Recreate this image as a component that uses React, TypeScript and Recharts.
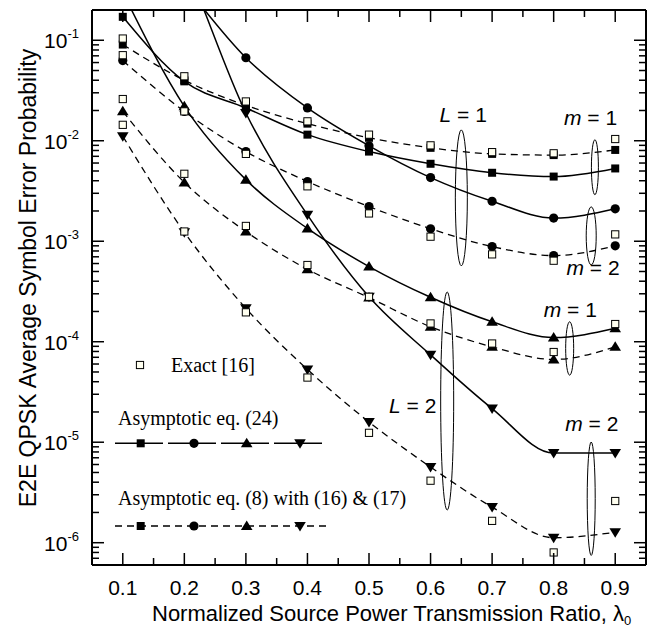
import React from "react";
import { LineChart, Line, XAxis, YAxis, ReferenceDot } from "recharts";

// normalized source power transmission ratio
const lambda0 = [0.1, 0.2, 0.3, 0.4, 0.5, 0.6, 0.7, 0.8, 0.9];

// Asymptotic eq. (24) - solid lines
const eq24L1m1 = [0.171, 0.039, 0.0212, 0.0115, 0.0078, 0.0059, 0.0048, 0.0044, 0.0053];
const eq24L1m2 = [2.5, 0.36, 0.067, 0.0212, 0.0089, 0.0043, 0.0025, 0.0017, 0.0021];
const eq24L2m1 = [0.3, 0.022, 0.0041, 0.00134, 5.6e-4, 2.77e-4, 1.58e-4, 1.1e-4, 1.36e-4];
const eq24L2m2 = [10, 0.6, 0.0189, 0.00183, 2.8e-4, 7.4e-5, 2.16e-5, 7.8e-6, 7.8e-6];

// Asymptotic eq. (8) with (16) & (17) - dashed lines
const eq8L1m1 = [0.0906, 0.04, 0.0225, 0.0148, 0.0107, 0.0085, 0.0074, 0.0072, 0.0081];
const eq8L1m2 = [0.0628, 0.0196, 0.0078, 0.00393, 0.00221, 0.00133, 8.85e-4, 7.2e-4, 9.0e-4];
const eq8L2m1 = [0.0196, 0.00385, 0.00125, 5.26e-4, 2.75e-4, 1.41e-4, 8.9e-5, 6.66e-5, 8.9e-5];
const eq8L2m2 = [0.0111, 0.00123, 2.15e-4, 5.3e-5, 1.59e-5, 5.66e-6, 2.26e-6, 1.12e-6, 1.27e-6];

// Exact [16] - open squares
const exactL1m1 = [0.104, 0.0438, 0.0246, 0.0156, 0.0115, 0.009, 0.0077, 0.0075, 0.0104];
const exactL1m2 = [0.071, 0.0196, 0.0074, 0.00352, 0.00189, 0.00111, 7.4e-4, 6.4e-4, 1.17e-3];
const exactL2m1 = [0.026, 0.00469, 0.00142, 5.8e-4, 2.8e-4, 1.52e-4, 9.6e-5, 7.9e-5, 1.5e-4];
const exactL2m2 = [0.0144, 0.00125, 1.96e-4, 4.4e-5, 1.24e-5, 4.14e-6, 1.65e-6, 8.0e-7, 2.6e-6];

const xMajorTicks = [0.1, 0.2, 0.3, 0.4, 0.5, 0.6, 0.7, 0.8, 0.9];
const xMinorTicks = [0.15, 0.25, 0.35, 0.45, 0.55, 0.65, 0.75, 0.85];
const yMajorTicks = [1e-6, 1e-5, 1e-4, 1e-3, 1e-2, 1e-1];
const yDomain: [number, number] = [6e-7, 0.2];

// annotations: ellipses around curve groups, labels
const ellipses = [
  { x: 0.65, y: 0.0027, rx: 6, ry: 68 },
  { x: 0.867, y: 0.00545, rx: 3.5, ry: 27.5 },
  { x: 0.861, y: 0.00113, rx: 5, ry: 29 },
  { x: 0.627, y: 2.57e-5, rx: 6.5, ry: 109 },
  { x: 0.826, y: 8.57e-5, rx: 4, ry: 26.7 },
  { x: 0.861, y: 2.74e-6, rx: 4, ry: 56.7 },
];
const labels = [
  { x: 0.653, y: 0.01815, name: "L", val: "1" },
  { x: 0.86, y: 0.01695, name: "m", val: "1" },
  { x: 0.864, y: 5.42e-4, name: "m", val: "2" },
  { x: 0.827, y: 2.11e-4, name: "m", val: "1" },
  { x: 0.571, y: 2.33e-5, name: "L", val: "2" },
  { x: 0.862, y: 1.55e-5, name: "m", val: "2" },
];

const yMinorTicks: number[] = [];
for (let e = -7; e <= -1; e++) {
  for (let k = 2; k <= 9; k++) {
    const v = k * Math.pow(10, e);
    if (v >= yDomain[0] && v < yDomain[1]) yMinorTicks.push(v);
  }
}
const yTicks = [...yMajorTicks, ...yMinorTicks].sort((a, b) => a - b);
const xTicks = [...xMajorTicks, ...xMinorTicks].sort((a, b) => a - b);

const data = lambda0.map((x, i) => ({
  x,
  a11: eq24L1m1[i],
  a12: eq24L1m2[i],
  a21: eq24L2m1[i],
  a22: eq24L2m2[i],
  b11: eq8L1m1[i],
  b12: eq8L1m2[i],
  b21: eq8L2m1[i],
  b22: eq8L2m2[i],
  e11: exactL1m1[i],
  e12: exactL1m2[i],
  e21: exactL2m1[i],
  e22: exactL2m2[i],
}));

const SANS = "'Liberation Sans', Arial, sans-serif";
const SERIF = "'Liberation Serif', 'Times New Roman', serif";

const isMajorY = (v: number) => {
  const l = Math.log10(v);
  return Math.abs(l - Math.round(l)) < 1e-6;
};
const isMajorX = (v: number) => Math.abs(v * 10 - Math.round(v * 10)) < 1e-6;

type Shape = "square" | "circle" | "up" | "down" | "open";

function Marker({ cx, cy, shape }: { cx: number; cy: number; shape: Shape }) {
  if (cx == null || cy == null || isNaN(cx) || isNaN(cy)) return null;
  switch (shape) {
    case "square":
      return <rect x={cx - 4} y={cy - 4} width={8} height={8} fill="#000" />;
    case "circle":
      return <circle cx={cx} cy={cy} r={4.6} fill="#000" />;
    case "up":
      return (
        <polygon
          points={`${cx},${cy - 5.5} ${cx + 5.8},${cy + 4} ${cx - 5.8},${cy + 4}`}
          fill="#000"
        />
      );
    case "down":
      return (
        <polygon
          points={`${cx},${cy + 5.5} ${cx + 5.8},${cy - 4} ${cx - 5.8},${cy - 4}`}
          fill="#000"
        />
      );
    default:
      return (
        <rect
          x={cx - 3.6}
          y={cy - 3.6}
          width={7.2}
          height={7.2}
          fill="#fffff0"
          stroke="#000"
          strokeWidth={1}
        />
      );
  }
}

const dotFor = (shape: Shape) => (p: any) => (
  <Marker key={`${shape}-${p.index}`} cx={p.cx} cy={p.cy} shape={shape} />
);

function LeftTick(props: any) {
  const { x, y, payload } = props;
  const v = payload.value;
  const major = isMajorY(v);
  return (
    <g>
      <line x1={x} x2={x + (major ? 12 : 7)} y1={y} y2={y} stroke="#000" strokeWidth={1.5} />
      {major && (
        <text x={x - 13} y={y + 8} textAnchor="end" fontFamily={SANS} fontSize={21} fill="#000">
          10
          <tspan dy={-10} fontSize={13}>
            {`-${Math.abs(Math.round(Math.log10(v)))}`}
          </tspan>
        </text>
      )}
    </g>
  );
}

function RightTick(props: any) {
  const { x, y, payload } = props;
  const major = isMajorY(payload.value);
  return <line x1={x} x2={x - (major ? 12 : 7)} y1={y} y2={y} stroke="#000" strokeWidth={1.5} />;
}

function BottomTick(props: any) {
  const { x, y, payload } = props;
  const major = isMajorX(payload.value);
  return (
    <g>
      <line x1={x} x2={x} y1={y} y2={y - (major ? 12 : 7)} stroke="#000" strokeWidth={1.5} />
      {major && (
        <text x={x} y={y + 30} textAnchor="middle" fontFamily={SANS} fontSize={21} fill="#000">
          {payload.value.toFixed(1)}
        </text>
      )}
    </g>
  );
}

function TopTick(props: any) {
  const { x, y, payload } = props;
  const major = isMajorX(payload.value);
  return <line x1={x} x2={x} y1={y} y2={y + (major ? 12 : 7)} stroke="#000" strokeWidth={1.5} />;
}

function LegendBox() {
  const mx = [32.7, 86, 138.7, 192];
  const shapes: Shape[] = ["square", "circle", "up", "down"];
  return (
    <svg
      width={300}
      height={200}
      style={{ position: "absolute", left: 100, top: 337, overflow: "visible" }}
    >
      <Marker cx={32} cy={20} shape="open" />
      <text x={63} y={27} fontFamily={SERIF} fontSize={20}>
        Exact [16]
      </text>
      <text x={10} y={80} fontFamily={SERIF} fontSize={20}>
        Asymptotic eq. (24)
      </text>
      <line x1={7} x2={218} y1={98.3} y2={98.3} stroke="#000" strokeWidth={1.5} strokeDasharray="48 5" />
      {mx.map((x, i) => (
        <Marker key={`s${i}`} cx={x} cy={98.3} shape={shapes[i]} />
      ))}
      <text x={10} y={160} fontFamily={SERIF} fontSize={20}>
        Asymptotic eq. (8) with (16) &amp; (17)
      </text>
      <line x1={7} x2={218} y1={181} y2={181} stroke="#000" strokeWidth={1.5} strokeDasharray="7 5" />
      {mx.map((x, i) => (
        <Marker key={`d${i}`} cx={x} cy={181} shape={shapes[i]} />
      ))}
    </svg>
  );
}

const solid = [
  { key: "a11", shape: "square" as Shape },
  { key: "a12", shape: "circle" as Shape },
  { key: "a21", shape: "up" as Shape },
  { key: "a22", shape: "down" as Shape },
];
const dashed = [
  { key: "b11", shape: "square" as Shape },
  { key: "b12", shape: "circle" as Shape },
  { key: "b21", shape: "up" as Shape },
  { key: "b22", shape: "down" as Shape },
];
const exact = ["e11", "e12", "e21", "e22"];

export default function App() {
  return (
    <div style={{ position: "relative", width: 656, height: 621 }}>
      <LineChart
        width={656}
        height={621}
        data={data}
        margin={{ top: 1, right: 17, bottom: 0, left: 0 }}
      >
        <XAxis
          dataKey="x"
          type="number"
          domain={[0.05, 0.95]}
          ticks={xTicks}
          interval={0}
          allowDataOverflow
          height={64}
          tickSize={0}
          tickMargin={0}
          tick={<BottomTick />}
          axisLine={{ stroke: "#000", strokeWidth: 2 }}
          tickLine={false}
          label={{
            content: () => (
              <text x={144} y={613} fontFamily={SANS} fontSize={22} fill="#000">
                Normalized Source Power Transmission Ratio, λ
                <tspan dy={4} fontSize={13}>0</tspan>
              </text>
            ),
          }}
        />
        <XAxis
          xAxisId="top"
          dataKey="x"
          type="number"
          orientation="top"
          domain={[0.05, 0.95]}
          ticks={xTicks}
          interval={0}
          allowDataOverflow
          height={1}
          tickSize={0}
          tickMargin={0}
          tick={<TopTick />}
          axisLine={{ stroke: "#000", strokeWidth: 2 }}
          tickLine={false}
        />
        <YAxis
          type="number"
          scale="log"
          domain={yDomain}
          ticks={yTicks}
          interval={0}
          allowDataOverflow
          width={84}
          tickSize={0}
          tickMargin={0}
          tick={<LeftTick />}
          axisLine={{ stroke: "#000", strokeWidth: 2 }}
          tickLine={false}
          label={{
            content: () => (
              <text
                x={0}
                y={0}
                transform="translate(28, 270) rotate(-90)"
                textAnchor="middle"
                fontFamily={SANS}
                fontSize={23}
                fill="#000"
              >
                E2E QPSK Average Symbol Error Probability
              </text>
            ),
          }}
        />
        <YAxis
          yAxisId="right"
          orientation="right"
          type="number"
          scale="log"
          domain={yDomain}
          ticks={yTicks}
          interval={0}
          allowDataOverflow
          width={1}
          tickSize={0}
          tickMargin={0}
          tick={<RightTick />}
          axisLine={{ stroke: "#000", strokeWidth: 2 }}
          tickLine={false}
        />

        {ellipses.map((e, i) => (
          <ReferenceDot
            key={`el${i}`}
            x={e.x}
            y={e.y}
            r={1}
            shape={(p: any) => (
              <ellipse cx={p.cx} cy={p.cy} rx={e.rx} ry={e.ry} fill="none" stroke="#000" strokeWidth={1} />
            )}
          />
        ))}
        {labels.map((l, i) => (
          <ReferenceDot
            key={`lb${i}`}
            x={l.x}
            y={l.y}
            r={1}
            shape={(p: any) => (
              <text
                x={p.cx}
                y={p.cy + 7.5}
                textAnchor="middle"
                fontFamily={SANS}
                fontSize={21}
                fill="#000"
              >
                <tspan fontStyle="italic">{l.name}</tspan>
                {` = ${l.val}`}
              </text>
            )}
          />
        ))}

        {solid.map((s) => (
          <Line
            key={s.key}
            dataKey={s.key}
            type="monotone"
            stroke="#000"
            strokeWidth={1.5}
            dot={dotFor(s.shape)}
            activeDot={false}
            isAnimationActive={false}
          />
        ))}
        {dashed.map((s) => (
          <Line
            key={s.key}
            dataKey={s.key}
            type="monotone"
            stroke="#000"
            strokeWidth={1.3}
            strokeDasharray="7 5"
            dot={dotFor(s.shape)}
            activeDot={false}
            isAnimationActive={false}
          />
        ))}
        {exact.map((k) => (
          <Line
            key={k}
            dataKey={k}
            stroke="none"
            dot={dotFor("open")}
            activeDot={false}
            isAnimationActive={false}
          />
        ))}
      </LineChart>
      <LegendBox />
    </div>
  );
}
